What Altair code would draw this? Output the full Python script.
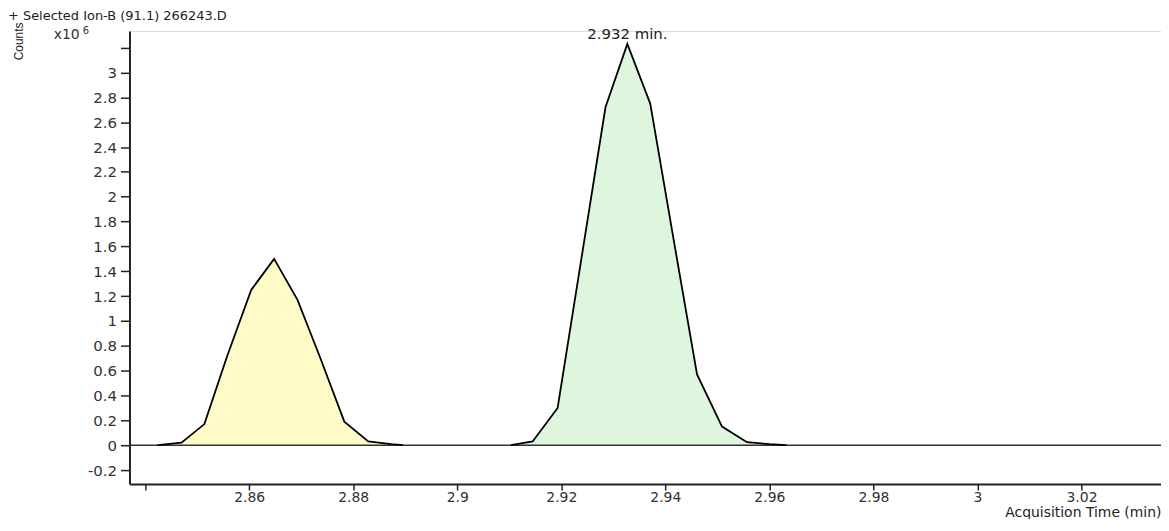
import altair as alt
import pandas as pd

# ---- data (counts in units of x10^6) ----
peak1_time = [2.8424, 2.8470, 2.8514, 2.8558, 2.8604, 2.8648, 2.8693, 2.8737, 2.8783, 2.8829, 2.8873, 2.8896]
peak1_counts = [0.0, 0.02, 0.17, 0.72, 1.25, 1.50, 1.17, 0.70, 0.19, 0.03, 0.008, 0.0]

peak2_time = [2.9103, 2.9145, 2.9193, 2.9239, 2.9285, 2.9327, 2.9371, 2.9417, 2.9461, 2.9509, 2.9557, 2.9601, 2.9633]
peak2_counts = [0.0, 0.03, 0.30, 1.51, 2.72, 3.23, 2.75, 1.63, 0.57, 0.15, 0.024, 0.008, 0.0]

x_ticks = [2.84, 2.86, 2.88, 2.90, 2.92, 2.94, 2.96, 2.98, 3.00, 3.02]
y_ticks = [-0.2, 0.0, 0.2, 0.4, 0.6, 0.8, 1.0, 1.2, 1.4, 1.6, 1.8, 2.0, 2.2, 2.4, 2.6, 2.8, 3.0, 3.2]

peak_label_time = [2.9327]
peak_label_counts = [3.23]
peak_label_text = ["2.932 min."]

title_text = "+ Selected Ion-B (91.1) 266243.D"

FONT = "DejaVu Sans"
YELLOW = "#FFFBC6"
GREEN = "#DDF6DD"
DARK = "#222222"

df1 = pd.DataFrame({"t": peak1_time, "c": peak1_counts})
df2 = pd.DataFrame({"t": peak2_time, "c": peak2_counts})
dflab = pd.DataFrame({"t": peak_label_time, "c": peak_label_counts, "txt": peak_label_text})
dfzero = pd.DataFrame({"z": [0.0]})
dfone = pd.DataFrame({"k": [0]})

x_scale = alt.Scale(domain=[2.837, 3.03528], nice=False, zero=False)
y_scale = alt.Scale(domain=[-0.3126, 3.334], nice=False, zero=False)

x_axis = alt.Axis(
    values=x_ticks,
    tickCount=40,
    labelExpr="datum.value < 2.85 ? '' : format(datum.value, '~g')",
    title="Acquisition Time (min)",
    titleAnchor="end",
    titleAlign="right",
    titleBaseline="middle",
    titleY=29,
    titleFont=FONT,
    titleFontSize=14,
    titleFontWeight="normal",
    titleColor=DARK,
    grid=False,
    tickSize=6,
    tickWidth=1.5,
    tickColor=DARK,
    domainColor=DARK,
    domainWidth=2,
    labelFont=FONT,
    labelFontSize=14,
    labelColor="#333333",
    labelPadding=1,
    labelFlush=False,
    labelOverlap=False,
)

y_axis = alt.Axis(
    values=y_ticks,
    tickCount=40,
    labelExpr="datum.value > 3.1 ? '' : replace(format(datum.value, '~g'), '\u2212', '-')",
    title="Counts",
    titleAngle=270,
    titleX=-111,
    titleY=10,
    titleAlign="center",
    titleBaseline="middle",
    titleFont="'Liberation Sans Narrow', 'Liberation Sans'",
    titleFontSize=12,
    titleFontWeight="normal",
    titleColor=DARK,
    grid=False,
    tickSize=9,
    tickWidth=1.5,
    tickColor=DARK,
    domainColor=DARK,
    domainWidth=2,
    labelFont=FONT,
    labelFontSize=15,
    labelColor="#333333",
    labelPadding=4,
    labelOverlap=False,
    labelFlush=False,
)

X = alt.X("t:Q", scale=x_scale, axis=x_axis)
Y = alt.Y("c:Q", scale=y_scale, axis=y_axis)

area1 = alt.Chart(df1).mark_area(color=YELLOW, opacity=1).encode(x=X, y=Y)
area2 = alt.Chart(df2).mark_area(color=GREEN, opacity=1).encode(x=X, y=Y)

zero_line = alt.Chart(dfzero).mark_rule(color="#333333", strokeWidth=1.5).encode(
    y=alt.Y("z:Q", scale=y_scale)
)

line1 = alt.Chart(df1).mark_line(color="black", strokeWidth=1.8).encode(x=X, y=Y)
line2 = alt.Chart(df2).mark_line(color="black", strokeWidth=1.8).encode(x=X, y=Y)

peak_label = alt.Chart(dflab).mark_text(
    font=FONT, fontSize=15, color=DARK, baseline="alphabetic", align="center", dy=-5
).encode(x=X, y=Y, text="txt:N")

title_mark = alt.Chart(dfone).mark_text(
    text=title_text, font=FONT, fontSize=13, color=DARK, align="left", baseline="alphabetic"
).encode(x=alt.value(-122), y=alt.value(-11))

x10_mark = alt.Chart(dfone).mark_text(
    text="x10", font=FONT, fontSize=14, color="#333333", align="right", baseline="alphabetic"
).encode(x=alt.value(-50), y=alt.value(8))

exp_mark = alt.Chart(dfone).mark_text(
    text="6", font=FONT, fontSize=10, color="#333333", align="left", baseline="alphabetic"
).encode(x=alt.value(-47), y=alt.value(3))

chart = alt.layer(
    area1, area2, zero_line, line1, line2, peak_label, title_mark, x10_mark, exp_mark
).properties(
    width=1036,
    height=455,
    padding={"left": 122, "top": 22, "right": 0, "bottom": 34},
    autosize=alt.AutoSizeParams(type="none"),
).configure_view(
    stroke=None
).configure(
    background="white"
)

chart.save("out.html", embed_options={"renderer": "svg", "actions": False})
